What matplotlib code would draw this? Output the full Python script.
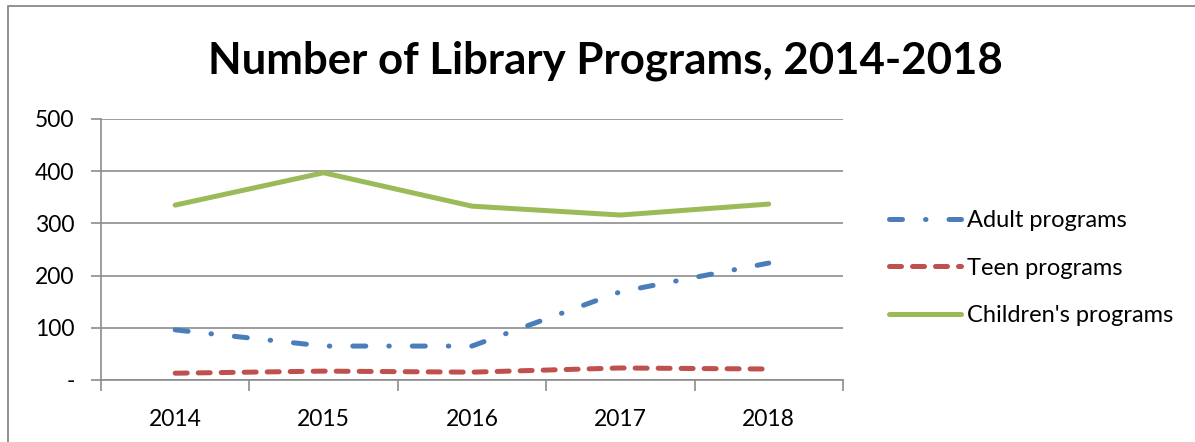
import matplotlib.pyplot as plt
from matplotlib.patches import Rectangle

# --- Data ---
YEARS = ['2014', '2015', '2016', '2017', '2018']
ADULT = [96, 65, 65, 169, 224]
TEEN = [13, 17, 15, 23, 21]
CHILDREN = [335, 397, 333, 316, 337]

FONT = 'Lato'
GRID = '#8c8c8c'


def main():
    fig = plt.figure(figsize=(11.95, 4.42), dpi=100)
    ax = fig.add_axes([0.0845, 0.1403, 0.6209, 0.5905])

    # outer chart border (Excel style)
    fig.patches.append(Rectangle((8 / 1195, -0.1), 1.1, (442 - 6) / 442 + 0.1,
                                 transform=fig.transFigure, fill=False,
                                 edgecolor='#7f7f7f', linewidth=1.2))

    x = list(range(len(YEARS)))
    ax.plot(x, ADULT, color='#4a7ebb', linewidth=3.6, dashes=(2.6, 4.6, 0.1, 4.6),
            dash_capstyle='round', label='Adult programs')
    ax.plot(x, TEEN, color='#c0504d', linewidth=3.6, dashes=(2.4, 2.2),
            dash_capstyle='round', label='Teen programs')
    ax.plot(x, CHILDREN, color='#9bbb59', linewidth=3.6, solid_capstyle='round',
            label="Children's programs")

    ax.set_xlim(-0.5, len(YEARS) - 0.5)
    ax.set_ylim(0, 500)
    ax.set_yticks([0, 100, 200, 300, 400, 500])
    ax.set_yticklabels(['-', '100', '200', '300', '400', '500'])
    ax.set_xticks(x)
    ax.set_xticklabels(YEARS)
    ax.set_xticks([i - 0.5 for i in range(len(YEARS) + 1)], minor=True)

    ax.grid(axis='y', color=GRID, linewidth=1.2)
    ax.set_axisbelow(True)
    for side in ['top', 'right']:
        ax.spines[side].set_visible(False)
    for side in ['left', 'bottom']:
        ax.spines[side].set_color(GRID)
        ax.spines[side].set_linewidth(1.2)

    ax.tick_params(axis='y', length=7, color=GRID, width=1.2, pad=12,
                   labelsize=16.5)
    ax.tick_params(axis='x', which='major', length=0, pad=21, labelsize=16.5)
    ax.tick_params(axis='x', which='minor', length=8, color=GRID, width=1.2)
    for lbl in ax.get_xticklabels() + ax.get_yticklabels():
        lbl.set_fontfamily(FONT)

    fig.text(0.507, 0.862, 'Number of Library Programs, 2014-2018',
             ha='center', va='center', fontsize=31.5, fontweight='bold',
             fontfamily=FONT)

    ax.legend(loc='center left', bbox_to_anchor=(1.033, 0.429), frameon=False,
              prop={'family': FONT, 'size': 17}, handlelength=3.05,
              handletextpad=0.25, labelspacing=1.12)

    fig.savefig('out.png', dpi=100)


if __name__ == '__main__':
    main()
